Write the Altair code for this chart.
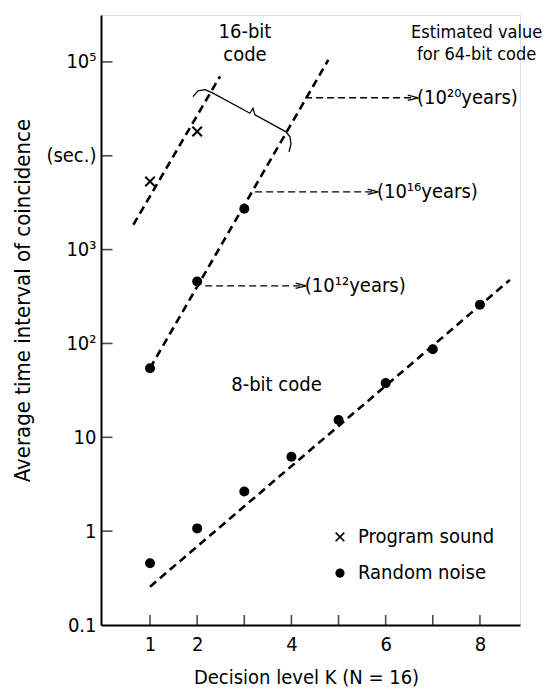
import altair as alt
import pandas as pd

# ---- data ----
rn16_k = [1, 2, 3]
rn16_t = [54.5, 457, 2720]
ps16_k = [1, 2]
ps16_t = [5320, 18150]
rn8_k = [1, 2, 3, 4, 5, 6, 7, 8]
rn8_t = [0.455, 1.07, 2.64, 6.2, 15.3, 37.8, 86.9, 258]

# dashed fit lines (end points)
fit_group = ["ps16", "ps16", "rn16", "rn16", "rn8", "rn8"]
fit_k = [0.646, 2.485, 1.0, 4.783, 1.0, 8.637]
fit_t = [1840, 70200, 54.5, 105000, 0.256, 476]

# brace joining the 16-bit lines
brace_k = [1.912, 2.018, 2.167, 2.315, 3.121, 3.185, 3.227, 3.885, 3.970, 3.991, 3.949]
brace_t = [42600, 49300, 50600, 47000, 28400, 32000, 27300, 18000, 15950, 13400, 11000]

# estimated-value arrows
arrow_t = [41500, 4130, 411]
arrow_k0 = [4.29, 3.23, 2.17]
arrow_k1 = [6.58, 5.73, 4.20]
arrow_labels = ["(10\u00b2\u2070years)", "(10\u00b9\u2076years)", "(10\u00b9\u00b2years)"]

# text annotations
center_text = ["16-bit", "code", "8-bit code"]
center_k = [3.015, 3.015, 3.683]
center_t = [210000, 119000, 36.2]

note_text = ["Estimated value", "for 64-bit code"]
note_k = [7.93, 7.93]
note_t = [205000, 119500]

legend_text = ["Program sound", "Random noise"]
legend_k = [5.03, 5.03]
legend_t = [0.867, 0.358]

x_ticks = [1, 2, 3, 4, 5, 6, 7, 8]
y_ticks = [0.1, 1, 10, 100, 1000, 10000, 100000]

FONT = "DejaVu Sans Condensed"
FS = 20

xs = alt.Scale(domain=[-0.04, 8.85], nice=False, zero=False)
ys = alt.Scale(type="log", domain=[0.1, 10 ** 5.5], nice=False)

x_axis = alt.Axis(
    values=x_ticks,
    labelExpr="(datum.value == 3 || datum.value == 5 || datum.value == 7) ? '' : datum.label",
    tickSize=0, grid=False, domainColor="black", domainWidth=2,
    labelFontSize=FS, labelFont=FONT, labelColor="black", labelPadding=9,
    title="Decision level  K (N = 16)", titleFontSize=FS, titleFont=FONT,
    titleFontWeight="normal", titleColor="black",
    titleX=205, titleY=58, titleBaseline="alphabetic", titleAlign="center",
)
y_axis = alt.Axis(
    values=y_ticks,
    labelExpr=("datum.value < 0.5 ? '0.1' : datum.value < 5 ? '1' : datum.value < 50 ? '10' : "
               "datum.value < 500 ? '10\u00b2' : datum.value < 5000 ? '10\u00b3' : "
               "datum.value < 50000 ? '(sec.)' : '10\u2075'"),
    tickSize=0, grid=False, domainColor="black", domainWidth=2,
    labelFontSize=FS, labelFont=FONT, labelColor="black", labelPadding=5,
    title="Average  time  interval  of  coincidence", titleFontSize=22, titleFont=FONT,
    titleFontWeight="normal", titleColor="black",
    titleX=-79, titleY=285, titleBaseline="middle", titleAlign="center",
)

rn16 = pd.DataFrame({"K": rn16_k, "T": rn16_t})
ps16 = pd.DataFrame({"K": ps16_k, "T": ps16_t})
rn8 = pd.DataFrame({"K": rn8_k, "T": rn8_t})
fits = pd.DataFrame({"g": fit_group, "K": fit_k, "T": fit_t})
brace = pd.DataFrame({"K": brace_k, "T": brace_t, "o": list(range(len(brace_k)))})
arrows = pd.DataFrame({"K0": arrow_k0, "K1": arrow_k1, "T": arrow_t, "label": arrow_labels})
ctext = pd.DataFrame({"K": center_k, "T": center_t, "text": center_text})
ntext = pd.DataFrame({"K": note_k, "T": note_t, "text": note_text})
ltext = pd.DataFrame({"K": legend_k, "T": legend_t, "text": legend_text})

X = alt.X("K:Q", scale=xs, axis=x_axis)
Y = alt.Y("T:Q", scale=ys, axis=y_axis)

base_axes = alt.Chart(rn8).mark_point(opacity=0).encode(x=X, y=Y)

fit_layer = alt.Chart(fits).mark_line(
    color="black", strokeWidth=2.6, strokeDash=[8, 5]
).encode(x=alt.X("K:Q", scale=xs), y=alt.Y("T:Q", scale=ys), detail="g:N")

brace_layer = alt.Chart(brace).mark_line(color="black", strokeWidth=1.3).encode(
    x=alt.X("K:Q", scale=xs), y=alt.Y("T:Q", scale=ys), order="o:Q")

arrow_lines = alt.Chart(arrows).mark_rule(
    color="black", strokeWidth=1.3, strokeDash=[7, 4]
).encode(x=alt.X("K0:Q", scale=xs), x2="K1:Q", y=alt.Y("T:Q", scale=ys))

arrow_heads = alt.Chart(arrows).mark_point(
    shape="M-1,-0.5L1,0L-1,0.5", filled=False, color="black", opacity=1,
    strokeWidth=1.3, size=110
).encode(x=alt.X("K1:Q", scale=xs), y=alt.Y("T:Q", scale=ys))

arrow_text = alt.Chart(arrows).mark_text(
    align="left", baseline="middle", dx=4, font=FONT, fontSize=FS, color="black"
).encode(x=alt.X("K1:Q", scale=xs), y=alt.Y("T:Q", scale=ys), text="label:N")

dots = alt.Chart(pd.concat([rn16, rn8])).mark_point(
    shape="circle", filled=True, color="black", opacity=1, size=100
).encode(x=alt.X("K:Q", scale=xs), y=alt.Y("T:Q", scale=ys))

crosses = alt.Chart(ps16).mark_point(
    shape="M-1,-1L1,1M-1,1L1,-1", filled=False, color="black", opacity=1,
    strokeWidth=2, size=90
).encode(x=alt.X("K:Q", scale=xs), y=alt.Y("T:Q", scale=ys))

ctext_layer = alt.Chart(ctext).mark_text(
    align="center", baseline="middle", font=FONT, fontSize=FS, color="black"
).encode(x=alt.X("K:Q", scale=xs), y=alt.Y("T:Q", scale=ys), text="text:N")

ntext_layer = alt.Chart(ntext).mark_text(
    align="center", baseline="middle", font=FONT, fontSize=18, color="black"
).encode(x=alt.X("K:Q", scale=xs), y=alt.Y("T:Q", scale=ys), text="text:N")

leg_sym = pd.DataFrame({"K": legend_k, "T": legend_t})
leg_cross = alt.Chart(leg_sym.iloc[[0]]).mark_point(
    shape="M-1,-1L1,1M-1,1L1,-1", filled=False, color="black", opacity=1,
    strokeWidth=1.6, size=75
).encode(x=alt.X("K:Q", scale=xs), y=alt.Y("T:Q", scale=ys))
leg_dot = alt.Chart(leg_sym.iloc[[1]]).mark_point(
    shape="circle", filled=True, color="black", opacity=1, size=85
).encode(x=alt.X("K:Q", scale=xs), y=alt.Y("T:Q", scale=ys))
ltext_layer = alt.Chart(ltext).mark_text(
    align="left", baseline="middle", dx=18, font=FONT, fontSize=FS, color="black"
).encode(x=alt.X("K:Q", scale=xs), y=alt.Y("T:Q", scale=ys), text="text:N")

# inward tick marks
ytick_df = pd.DataFrame({"T": y_ticks[1:]})
xtick_df = pd.DataFrame({"K": x_ticks})
ytick_layer = alt.Chart(ytick_df).mark_tick(
    orient="horizontal", color="black", size=11, thickness=1.6
).encode(y=alt.Y("T:Q", scale=ys), x=alt.value(6))
xtick_layer = alt.Chart(xtick_df).mark_tick(
    orient="vertical", color="black", size=10, thickness=1.6
).encode(x=alt.X("K:Q", scale=xs), y=alt.value(605))

chart = alt.layer(
    base_axes, fit_layer, brace_layer, arrow_lines, arrow_heads, arrow_text,
    dots, crosses, ctext_layer, ntext_layer, leg_cross, leg_dot, ltext_layer,
    ytick_layer, xtick_layer,
).properties(
    width=419, height=610,
    autosize=alt.AutoSizeParams(type="none"),
    padding={"left": 93, "top": 7, "right": 29, "bottom": 66},
).configure_view(stroke=None).configure(font=FONT)

chart.save("out.html", embed_options={"renderer": "svg", "actions": False})
